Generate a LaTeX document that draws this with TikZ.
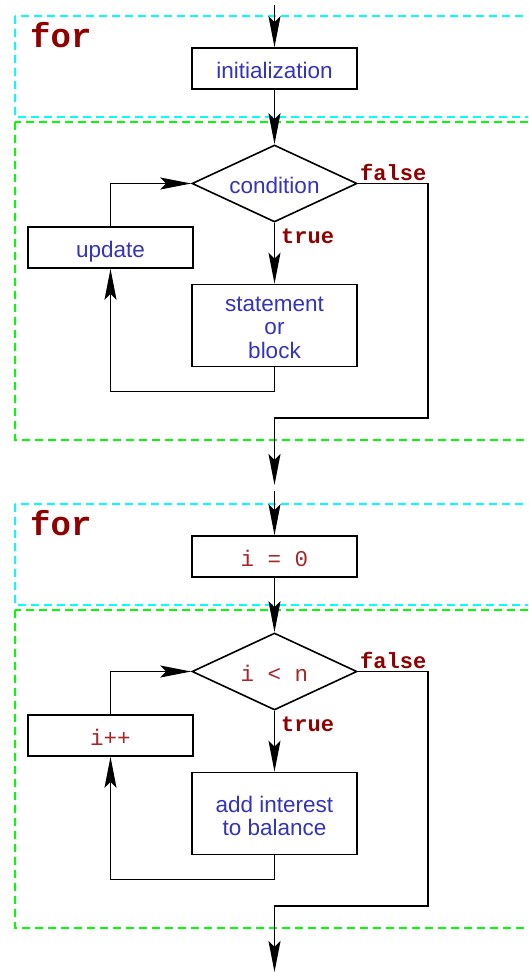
\documentclass[tikz,border=0pt]{standalone}
\usepackage{fontspec}
\setmainfont{Liberation Sans}
\setmonofont{Liberation Mono}
\usetikzlibrary{shapes.geometric,arrows.meta}
\definecolor{tblue}{RGB}{51,51,187}
\definecolor{kred}{RGB}{144,0,0}
\definecolor{cred}{RGB}{165,40,40}
\definecolor{fcyan}{RGB}{0,255,255}
\definecolor{fgreen}{RGB}{0,255,0}
\tikzset{
  blk/.style={draw=black,line width=1.6pt,fill=white,minimum width=165pt,minimum height=41pt,inner sep=0pt,align=center,text=tblue,font=\fontsize{22.5}{23.5}\selectfont,text height=20pt,text depth=0pt},
  tall/.style={blk,minimum height=82pt},
  dec/.style={draw=black,line width=1.6pt,fill=white,diamond,aspect=2.14,minimum width=165pt,minimum height=77pt,inner sep=0pt,text=tblue,font=\fontsize{22.5}{23.5}\selectfont,text height=19pt,text depth=0pt},
  arr/.style={draw=black,line width=1.6pt,-{Stealth[length=31pt,width=12pt,inset=6pt]}},
  ln/.style={draw=black,line width=1.6pt},
  frameA/.style={draw=fcyan,line width=1.6pt,dash pattern=on 8pt off 5pt},
  frameB/.style={draw=fgreen,line width=1.6pt,dash pattern=on 8pt off 5pt},
  kw/.style={text=kred,font=\fontsize{22}{24}\selectfont\ttfamily\bfseries,inner sep=0pt,anchor=base west},
  forlbl/.style={text=kred,font=\fontsize{34}{36}\selectfont\ttfamily\bfseries,inner sep=0pt,anchor=base west},
  code/.style={text=cred,font=\fontsize{22}{24}\selectfont\ttfamily}
}
\begin{document}
\begin{tikzpicture}[x=1pt,y=-1pt]
\useasboundingbox (0,0) rectangle (528,972);
\clip (0,0) rectangle (528,972);
% ---------- first diagram ----------
\draw[frameA] (15,16) rectangle (545,117);
\draw[frameB] (15,122) rectangle (545,440);
\node[forlbl] (for1) at (30,47) {for};
\node[blk] (init1) at (274.5,68.5) {initialization};
\node[dec] (cond1) at (274.5,183.5) {condition};
\node[blk] (upd1) at (110.5,247.5) {update};
\node[tall,text height=65pt] (stmt1) at (274.5,325.5) {\begin{tabular}[b]{@{}c@{}}statement\\or\\block\end{tabular}};
\node[kw] (f1) at (360,180) {false};
\node[kw] (t1) at (281,243) {true};
\coordinate (top1) at (274.5,5);
\coordinate (r1) at (428,418);
\coordinate (out1) at (274.5,485);
\draw[arr] (top1) -- (init1.north);
\draw[arr] (init1.south) -- (cond1.north);
\draw[arr] (cond1.south) -- (stmt1.north);
\draw[arr] (stmt1.south) -- ++(0,24) -| (upd1.south);
\draw[arr] (upd1.north) |- (cond1.west);
\draw[arr] (cond1.east) -| (r1) -| (out1);
% ---------- second diagram ----------
\draw[frameA] (15,504) rectangle (545,605);
\draw[frameB] (15,610) rectangle (545,928);
\node[forlbl] (for2) at (30,535) {for};
\node[blk] (init2) at (274.5,556.5) {\textcolor{cred}{\ttfamily i = 0}};
\node[dec] (cond2) at (274.5,671.5) {\textcolor{cred}{\ttfamily i < n}};
\node[blk] (upd2) at (110.5,735.5) {\textcolor{cred}{\ttfamily i++}};
\node[tall,text height=44pt] (stmt2) at (274.5,813.5) {\begin{tabular}[b]{@{}c@{}}add interest\\to balance\end{tabular}};
\node[kw] (f2) at (360,668) {false};
\node[kw] (t2) at (281,731) {true};
\coordinate (top2) at (274.5,491);
\coordinate (r2) at (428,906);
\coordinate (out2) at (274.5,972);
\draw[arr] (top2) -- (init2.north);
\draw[arr] (init2.south) -- (cond2.north);
\draw[arr] (cond2.south) -- (stmt2.north);
\draw[arr] (stmt2.south) -- ++(0,24) -| (upd2.south);
\draw[arr] (upd2.north) |- (cond2.west);
\draw[arr] (cond2.east) -| (r2) -| (out2);
\end{tikzpicture}
\end{document}
